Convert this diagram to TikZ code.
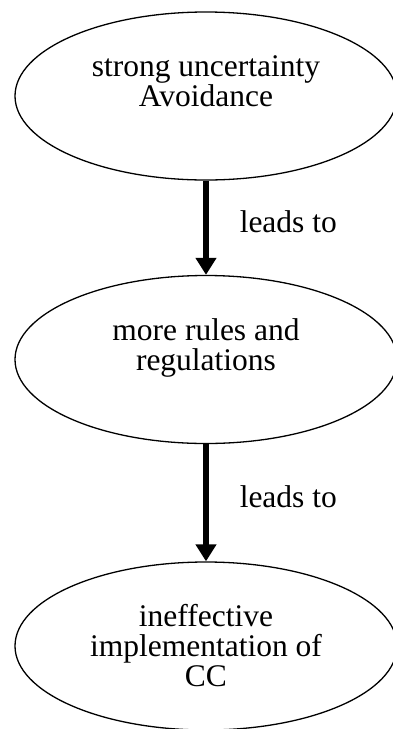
\documentclass[tikz,border=0pt]{standalone}
\usepackage{fontspec}
\setmainfont{Liberation Serif}
\usetikzlibrary{shapes.geometric,arrows.meta}
\tikzset{
  bubble/.style={draw, ellipse, line width=1.3pt, minimum width=382pt, minimum height=168pt,
    inner sep=0pt, align=center, font=\fontsize{31.5}{30}\selectfont},
  leadsto/.style={line width=5.5pt, -{Triangle[width=20pt,length=17pt]}},
  leadslabel/.style={right=31pt, yshift=6pt, inner sep=0pt, font=\fontsize{31.5}{30}\selectfont}
}
\begin{document}
\begin{tikzpicture}[x=1pt,y=1pt]
  \useasboundingbox (0,0) rectangle (393,-729);
  % the three steps
  \node[bubble] (avoidance) at (206,-96) {strong uncertainty\\Avoidance\\ \mbox{}};
  \node[bubble] (rules) at (206,-359.5) {more rules and\\regulations\\ \mbox{}};
  \node[bubble] (ineffective) at (206,-646) {ineffective\\implementation of\\CC};
  % arrows
  \draw[leadsto] (avoidance) -- node[leadslabel] {leads to} (rules);
  \draw[leadsto] (rules) -- node[leadslabel] {leads to} (ineffective);
\end{tikzpicture}
\end{document}
